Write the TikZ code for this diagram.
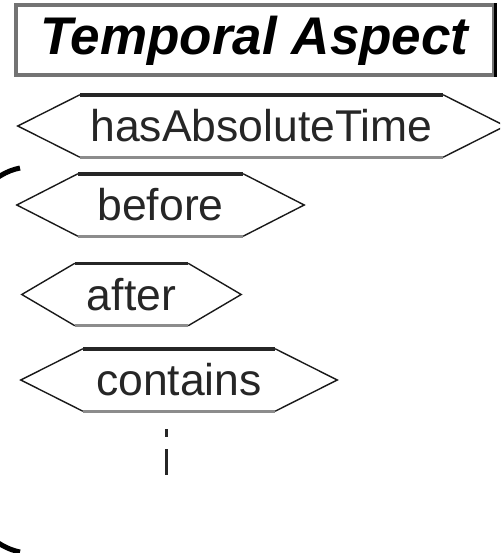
\documentclass[tikz,border=0pt]{standalone}
\usepackage{fontspec}
\setmainfont{Liberation Sans}
\usetikzlibrary{calc,positioning}

\begin{document}
\begin{tikzpicture}[x=1pt, y=-1pt,
        heading/.style={rectangle, draw=black!55, line width=4pt, minimum width=478pt, minimum height=70pt,
        inner sep=0pt, text=black, font=\fontsize{53}{53}\selectfont\bfseries\itshape},
        relation/.style={rectangle, minimum height=62pt, inner sep=0pt, text=black!85,
        font=\fontsize{44.5}{44.5}\selectfont},
        slantedge/.style={line width=1.4pt, black!90},
        topedge/.style={line width=3.5pt, black!85},
        bottomedge/.style={line width=3pt, black!45},]
    \useasboundingbox (0,0) rectangle (500,553);
    \clip (0,0) rectangle (500,553);

    \node (temporal) [heading] at (254.5,40.5) {Temporal Aspect};
    \draw [line width=3pt, black] (temporal.north east) -- (temporal.south east);

    \node (hasabs) [relation, minimum width=363pt] at (261.5,126) {hasAbsoluteTime};
    \node (before) [relation, minimum width=165pt] at (160.5,205) {before};
    \node (after) [relation, minimum width=113pt] at (131.5,294.5) {after};
    \node (contains) [relation, minimum width=192pt] at (179,380) {contains};

    % hexagon outline round every relation
    \foreach \rel/\tip in {hasabs/62, before/61, after/53, contains/62} {
        \draw [slantedge] (\rel.north west) -- ([xshift=-\tip pt]\rel.west) -- (\rel.south west);
        \draw [slantedge] (\rel.north east) -- ([xshift=\tip pt]\rel.east) -- (\rel.south east);
        \draw [topedge] (\rel.north west) -- (\rel.north east);
        \draw [bottomedge] (\rel.south west) -- (\rel.south east);
    }

    % more relations follow
    \draw [line width=3pt, black!85] (166,429) -- (166,437);
    \draw [line width=3pt, black!85] (166,449) -- (166,475);

    % bracket on the left
    \draw [line width=5pt, black] (20,168) arc [start angle=264.2, end angle=95.8, x radius=99.8, y radius=193];
\end{tikzpicture}
\end{document}
